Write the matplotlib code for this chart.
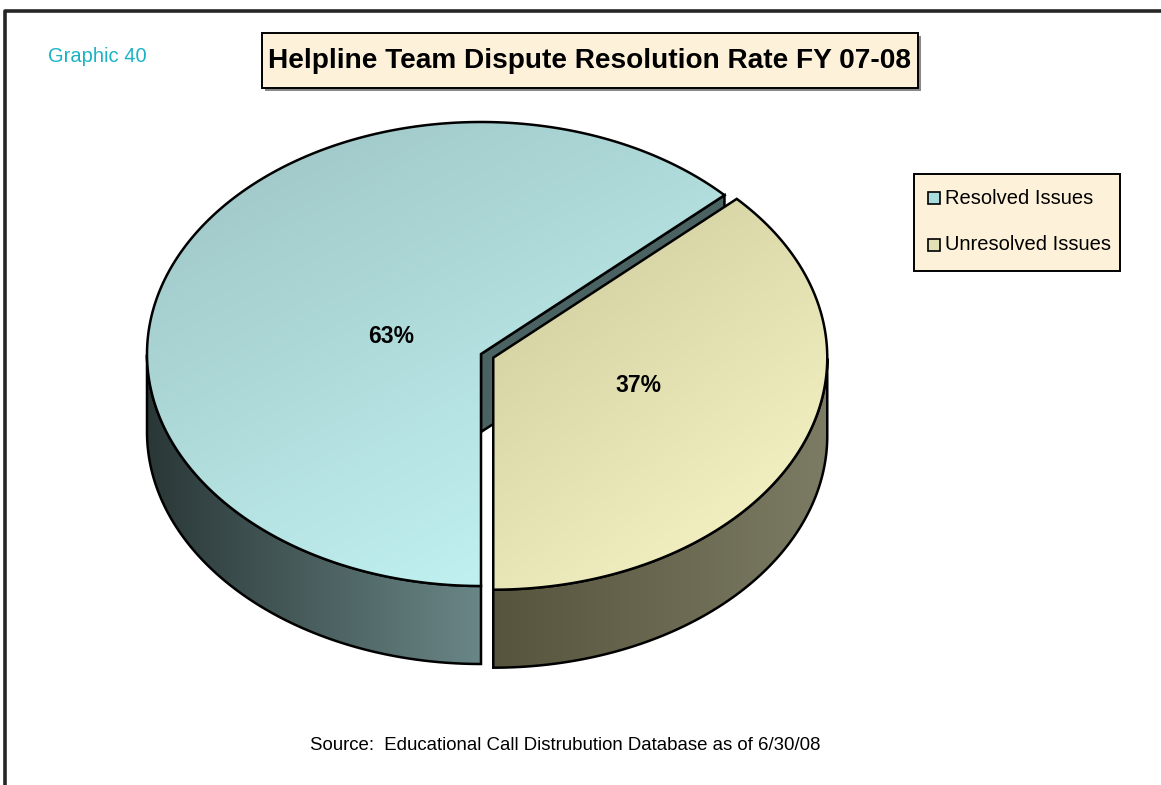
import numpy as np
import matplotlib
matplotlib.use("Agg")
import matplotlib.pyplot as plt
from matplotlib.patches import Polygon, Rectangle
from matplotlib.colors import to_rgb

labels = ["Resolved Issues", "Unresolved Issues"]
values = [63, 37]
pct_text = ["63%", "37%"]

explode = [0.0, 0.04]
top_c1 = ["#9cc2c2", "#ccc99b"]
top_c2 = ["#c8fafa", "#fbf9ca"]
wall_c1 = ["#2a3737", "#57543d"]
wall_c2 = ["#6a8686", "#7c7b63"]
cut_col = ["#4a6262", "#6a6852"]
legend_col = ["#a9dcdc", "#e2e0b4"]
label_r = [0.28, 0.45]
label_rot = 8.0

plt.rcParams["font.family"] = ["Liberation Sans", "DejaVu Sans"]

fig = plt.figure(figsize=(11.61, 7.85), dpi=100)
ax = fig.add_axes([0, 0, 1, 1])
ax.set_xlim(0, 1161)
ax.set_ylim(785, 0)
ax.axis("off")

CX, CY = 481, 354
RX, RY = 334, 232
DEPTH = 78


def pt(cx, cy, t, r=1.0):
    return cx + r * RX * np.cos(t), cy - r * RY * np.sin(t)


def grad_fill(poly, c1, c2, mode):
    xy = poly.get_xy()
    x0, y0 = xy.min(axis=0)
    x1, y1 = xy.max(axis=0)
    n = 200
    gx, gy = np.meshgrid(np.linspace(0, 1, n), np.linspace(0, 1, n))
    if mode == "diag":
        t = 0.4 * gx + 0.6 * gy
    else:
        t = gx
    a = np.array(to_rgb(c1))
    b = np.array(to_rgb(c2))
    img = a[None, None, :] + t[:, :, None] * (b - a)[None, None, :]
    im = ax.imshow(img, extent=[x0, x1, y1, y0], origin="upper",
                   aspect="auto", interpolation="bilinear", zorder=poly.get_zorder() - 0.5)
    im.set_clip_path(poly)


# slice angles: start at bottom, go counter-clockwise with last value first
total = float(sum(values))
angles = {}
start = -90.0
for i in reversed(range(len(values))):
    end = start + 360.0 * values[i] / total
    angles[i] = (start, end)
    start = end

z = 2
for i in range(len(values)):
    a1, a2 = np.radians(angles[i][0]), np.radians(angles[i][1])
    mid = (a1 + a2) / 2
    cx = CX + explode[i] * RX * np.cos(mid)
    cy = CY - explode[i] * RY * np.sin(mid)
    ts = np.linspace(a1, a2, 400)

    # outer wall (front half only)
    front = ts[np.sin(ts) <= 0.001]
    if len(front) > 1:
        xs, ys = pt(cx, cy, front)
        wall = np.concatenate([np.column_stack([xs, ys]),
                               np.column_stack([xs[::-1], ys[::-1] + DEPTH])])
        p = Polygon(wall, closed=True, facecolor="none", edgecolor="black",
                    lw=1.8, zorder=z)
        ax.add_patch(p)
        grad_fill(p, wall_c1[i], wall_c2[i], "horiz")
        z += 1

    # radial cut faces
    for a, normal in ((a1, a1 - np.pi / 2), (a2, a2 + np.pi / 2)):
        if np.sin(normal) < -0.01:
            ex, ey = pt(cx, cy, a)
            face = [(cx, cy), (ex, ey), (ex, ey + DEPTH), (cx, cy + DEPTH)]
            ax.add_patch(Polygon(face, closed=True, facecolor=cut_col[i],
                                 edgecolor="black", lw=1.8, zorder=z))
            z += 1

    # top face
    xs, ys = pt(cx, cy, ts)
    top = np.vstack([[cx, cy], np.column_stack([xs, ys])])
    p = Polygon(top, closed=True, facecolor="none", edgecolor="black",
                lw=1.8, zorder=z)
    ax.add_patch(p)
    grad_fill(p, top_c1[i], top_c2[i], "diag")
    z += 1

    lx, ly = pt(cx, cy, mid + np.radians(label_rot), label_r[i])
    ax.text(lx, ly, pct_text[i], ha="center", va="center", fontsize=16.5,
            fontweight="bold", zorder=50)

# page border
ax.plot([5, 5, 1161], [785, 11, 11], color="#262626", lw=2.6, zorder=60)

ax.text(48, 57, "Graphic 40", color="#1ab3c6", fontsize=14.5, va="center", ha="left")

# title box
ax.add_patch(Rectangle((265, 36), 656, 55, facecolor="#888888", edgecolor="none", zorder=40))
ax.add_patch(Rectangle((262, 33), 656, 55, facecolor="#fdf2d9", edgecolor="black", lw=1.4, zorder=41))
ax.text(590, 61, "Helpline Team Dispute Resolution Rate FY 07-08", ha="center",
        va="center", fontsize=20.2, fontweight="bold", zorder=42)

# legend box
ax.add_patch(Rectangle((914, 174), 206, 97, facecolor="#fdf2d9", edgecolor="black", lw=1.4, zorder=40))
for k, lab in enumerate(labels):
    yy = 198 + 47 * k
    ax.add_patch(Rectangle((928, yy - 6), 12, 12, facecolor=legend_col[k],
                           edgecolor="black", lw=1.2, zorder=41))
    ax.text(945, yy, lab, va="center", ha="left", fontsize=14.5, zorder=42)

ax.text(565, 745, "Source:  Educational Call Distrubution Database as of 6/30/08",
        ha="center", va="center", fontsize=13.4)

fig.savefig("out.png", dpi=100, facecolor="white")
